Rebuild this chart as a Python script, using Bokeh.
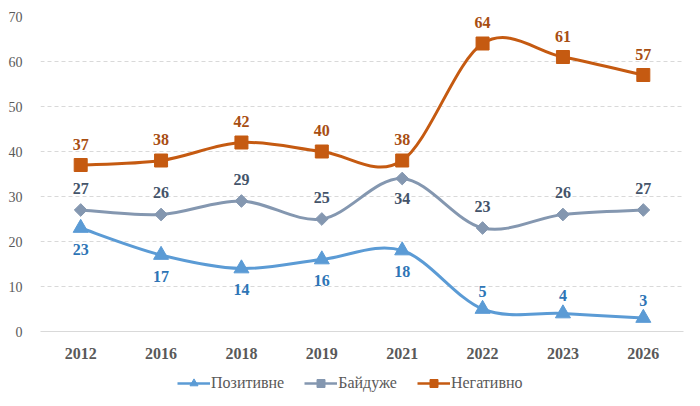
import numpy as np
from bokeh.plotting import figure
from bokeh.layouts import column
from bokeh.models import Range1d, FixedTicker, Legend, LegendItem, ColumnDataSource
from bokeh.core.properties import value
from bokeh.embed import file_html
from bokeh.resources import INLINE

years = ["2012", "2016", "2018", "2019", "2021", "2022", "2023", "2026"]
positive = [23, 17, 14, 16, 18, 5, 4, 3]
indifferent = [27, 26, 29, 25, 34, 23, 26, 27]
negative = [37, 38, 42, 40, 38, 64, 61, 57]
names = ["Позитивне", "Байдуже", "Негативно"]

SERIF = value("Liberation Serif")
C_POS, C_IND, C_NEG = "#5B9BD5", "#8497B0", "#C55A11"
L_POS, L_IND, L_NEG = "#2E75B6", "#44546A", "#A84E12"

p = figure(width=692, height=362, output_backend="svg", toolbar_location=None,
           x_range=Range1d(-0.5, len(years) - 0.5), y_range=Range1d(0, 70),
           min_border_left=40, min_border_right=9, min_border_top=16, min_border_bottom=31)
p.outline_line_color = None

p.xaxis.ticker = FixedTicker(ticks=list(range(len(years))))
p.xaxis.major_label_overrides = {i: y for i, y in enumerate(years)}
p.xaxis.major_tick_line_color = None
p.xaxis.minor_tick_line_color = None
p.xaxis.axis_line_color = "#D9D9D9"
p.xaxis.major_label_text_font = "Liberation Serif"
p.xaxis.major_label_text_font_style = "bold"
p.xaxis.major_label_text_font_size = "16px"
p.xaxis.major_label_text_color = "#595959"
p.xaxis.major_label_standoff = 10

p.yaxis.ticker = FixedTicker(ticks=list(range(0, 71, 10)))
p.yaxis.axis_line_color = None
p.yaxis.major_tick_line_color = None
p.yaxis.minor_tick_line_color = None
p.yaxis.major_label_text_font = "Liberation Serif"
p.yaxis.major_label_text_font_size = "14px"
p.yaxis.major_label_text_color = "#595959"
p.yaxis.major_label_standoff = 12

p.xgrid.grid_line_color = None
p.ygrid.grid_line_color = "#D9D9D9"
p.ygrid.grid_line_dash = "4 3"
p.ygrid.ticker = FixedTicker(ticks=list(range(10, 71, 10)))


def smooth(vals, color):
    n = len(vals)
    xs = np.arange(n, dtype=float)
    ys = np.asarray(vals, dtype=float)
    x0, y0, x1, y1, cx0, cy0, cx1, cy1 = [], [], [], [], [], [], [], []
    for i in range(n - 1):
        im1 = max(i - 1, 0)
        ip2 = min(i + 2, n - 1)
        x0.append(xs[i]); y0.append(ys[i]); x1.append(xs[i + 1]); y1.append(ys[i + 1])
        cx0.append(xs[i] + (xs[i + 1] - xs[im1]) / 6); cy0.append(ys[i] + (ys[i + 1] - ys[im1]) / 6)
        cx1.append(xs[i + 1] - (xs[ip2] - xs[i]) / 6); cy1.append(ys[i + 1] - (ys[ip2] - ys[i]) / 6)
    src = ColumnDataSource(dict(x0=x0, y0=y0, x1=x1, y1=y1, cx0=cx0, cy0=cy0, cx1=cx1, cy1=cy1))
    p.bezier(x0="x0", y0="y0", x1="x1", y1="y1", cx0="cx0", cy0="cy0", cx1="cx1", cy1="cy1",
             source=src, line_color=color, line_width=3)


# legend-only figure below the chart
lg = figure(width=692, height=36, output_backend="svg", toolbar_location=None,
            x_range=Range1d(0, 1), y_range=Range1d(0, 1),
            x_axis_location=None, y_axis_location=None,
            min_border_left=0, min_border_right=0, min_border_top=0, min_border_bottom=0)
lg.outline_line_color = None
lg.grid.grid_line_color = None

idx = list(range(len(years)))
items = []
for vals, color, marker, size, angle, name in [
        (positive, C_POS, "triangle", 15, 0, names[0]),
        (indifferent, C_IND, "square", 9, np.pi / 4, names[1]),
        (negative, C_NEG, "square", 13, 0, names[2])]:
    smooth(vals, color)
    p.scatter(idx, vals, marker=marker, size=size, angle=angle,
              fill_color=color, line_color=color)
    # legend swatches: one point kept outside the visible range
    dl = lg.line([-5, -4], [-5, -5], line_color=color, line_width=2.5)
    ds = lg.scatter([-5], [-5], marker=marker, size=size * 0.75, angle=angle,
                    fill_color=color, line_color=color)
    items.append(LegendItem(label=name, renderers=[dl, ds]))


def labels(xi, vals, color, off):
    p.text(list(xi), [vals[i] for i in xi], text=[str(vals[i]) for i in xi],
           text_font=SERIF, text_font_style="bold", text_font_size="16px",
           text_color=color, text_align="center", text_baseline="middle", y_offset=off)


labels(idx, negative, L_NEG, -21)
labels(idx[:4] + idx[5:], indifferent, L_IND, -22)
labels(idx[4:5], indifferent, L_IND, 20)
labels(idx[:5], positive, L_POS, 21)
labels(idx[5:], positive, L_POS, -18)

legend = Legend(items=items, orientation="horizontal", location=(137, 5),
                padding=0, margin=0, spacing=20, glyph_width=33, glyph_height=20,
                label_standoff=1, border_line_color=None, background_fill_alpha=0,
                label_text_font="Liberation Serif", label_text_font_size="16px",
                label_text_color="#595959")
lg.add_layout(legend, "center")

open("out.html", "w").write(file_html(column(p, lg, spacing=0), INLINE))
